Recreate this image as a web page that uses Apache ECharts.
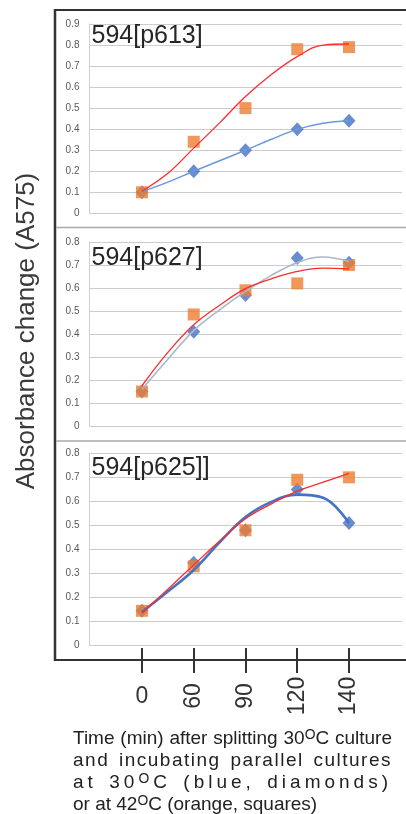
<!DOCTYPE html>
<html>
<head>
<meta charset="utf-8">
<script src="https://cdn.jsdelivr.net/npm/echarts@6/dist/echarts.min.js"></script>
<style>
html,body{margin:0;padding:0;background:#fff;}
#wrap{position:relative;width:406px;height:814px;}
#chart{position:absolute;left:0;top:0;width:406px;height:814px;}
#caption{position:absolute;left:73px;top:727px;width:319px;font-family:"Liberation Sans",Arial,sans-serif;font-size:19px;line-height:22px;color:#222;}
#caption div{text-align:justify;text-align-last:justify;white-space:nowrap;}
#caption div.last{text-align-last:left;}
#caption sup{font-size:0.73em;vertical-align:5px;line-height:0;}
</style>
</head>
<body>
<div id="wrap">
<div id="chart"></div>
<div id="caption">
<div>Time (min) after splitting 30<sup>O</sup>C culture</div>
<div style="letter-spacing:1.5px">and incubating parallel cultures</div>
<div style="letter-spacing:4px">at 30<sup>O</sup>C (blue, diamonds)</div>
<div class="last">or at 42<sup>O</sup>C (orange, squares)</div>
</div>
</div>
<script>
// ---- data ----
const categories = ['0', '60', '90', '120', '140'];
const panelTitles = ['594[p613]', '594[p627]', '594[p625]]'];
const yMax = [0.9, 0.8, 0.8];
const yTitle = 'Absorbance change (A575)';

const p1Blue = [0.10, 0.20, 0.30, 0.40, 0.44];
const p1Orange = [0.10, 0.34, 0.50, 0.78, 0.79];
const p2Blue = [0.15, 0.41, 0.57, 0.73, 0.71];
const p2Orange = [0.15, 0.485, 0.59, 0.62, 0.70];
const p3Blue = [0.145, 0.345, 0.48, 0.65, 0.51];
const p3Orange = [0.145, 0.33, 0.48, 0.69, 0.70];

// trend curves at these category positions
const trendX = [0, 0.5, 1, 1.5, 2, 2.5, 3, 3.5, 4];
const p1BlueTrend = [0.103, 0.148, 0.20, 0.25, 0.30, 0.352, 0.399, 0.428, 0.44];
const p1RedTrend = [0.105, 0.19, 0.31, 0.43, 0.555, 0.66, 0.745, 0.80, 0.805];
const p2BlueTrend = [0.16, 0.29, 0.415, 0.505, 0.585, 0.655, 0.71, 0.735, 0.715];
const p2RedTrend = [0.175, 0.32, 0.44, 0.525, 0.597, 0.64, 0.672, 0.686, 0.683];
const p3BlueTrend = [0.14, 0.225, 0.315, 0.43, 0.535, 0.598, 0.628, 0.615, 0.51];
const p3RedTrend = [0.135, 0.235, 0.336, 0.435, 0.528, 0.59, 0.643, 0.68, 0.717];

const blues = [p1Blue, p2Blue, p3Blue];
const oranges = [p1Orange, p2Orange, p3Orange];
const blueTrends = [p1BlueTrend, p2BlueTrend, p3BlueTrend];
const redTrends = [p1RedTrend, p2RedTrend, p3RedTrend];

// ---- layout / style ----
const FONT = '"Liberation Sans", Arial, sans-serif';
const gridsPx = [
  {top: 24, bottom: 814 - 213.3},
  {top: 242, bottom: 814 - 426},
  {top: 453.3, bottom: 814 - 645.7}
];
const blueTrendStyle = [
  {color: '#6b98dc', width: 1.5},
  {color: '#a9b8cc', width: 1.6},
  {color: '#4472C4', width: 2.6}
];

const chart = echarts.init(document.getElementById('chart'), null, {renderer: 'canvas'});

const grid = [], xAxis = [], yAxis = [], series = [];
for (let p = 0; p < 3; p++) {
  grid.push({left: 89.5, right: 4, top: gridsPx[p].top, bottom: gridsPx[p].bottom});
  xAxis.push({type: 'value', gridIndex: p, min: -1.014, max: 5.024, show: false});
  yAxis.push({
    type: 'value', gridIndex: p, min: 0, max: yMax[p], interval: 0.1,
    axisLine: {show: true, onZero: false, lineStyle: {color: '#d0d0d0', width: 1}},
    axisTick: {show: false},
    splitLine: {lineStyle: {color: '#cccccc', width: 1.2}},
    axisLabel: {
      color: '#595959', fontSize: 10, fontFamily: FONT, margin: 10,
      formatter: v => v === 0 ? '0' : v.toFixed(1)
    }
  });
  series.push({
    type: 'scatter', xAxisIndex: p, yAxisIndex: p, symbol: 'diamond', symbolSize: [13, 14],
    itemStyle: {color: '#4472C4'},
    data: blues[p].map((v, i) => [i, v]), z: 2
  });
  series.push({
    type: 'scatter', xAxisIndex: p, yAxisIndex: p, symbol: 'rect', symbolSize: 12,
    itemStyle: {color: '#ED7D31'},
    data: oranges[p].map((v, i) => [i, v]), z: 3
  });
  series.push({
    type: 'line', xAxisIndex: p, yAxisIndex: p, smooth: 0.4, showSymbol: false,
    lineStyle: blueTrendStyle[p], data: trendX.map((x, i) => [x, blueTrends[p][i]]), z: 4
  });
  series.push({
    type: 'line', xAxisIndex: p, yAxisIndex: p, smooth: 0.4, showSymbol: false,
    lineStyle: {color: '#ff2b2b', width: 1.3}, data: trendX.map((x, i) => [x, redTrends[p][i]]), z: 5
  });
}
// bottom tick axis
grid.push({left: 116.1, width: 258.75, top: 620, bottom: 814 - 660});
yAxis.push({type: 'value', gridIndex: 3, show: false});
xAxis.push({
  type: 'category', gridIndex: 3, data: categories, position: 'bottom',
  axisLine: {show: false},
  axisTick: {show: true, alignWithLabel: true, length: 13, lineStyle: {color: '#333', width: 2}},
  axisLabel: {
    interval: 0, rotate: 90, align: 'center', margin: 36, fontSize: 23, fontFamily: FONT, color: '#333',
    formatter: (v, i) => i === 0 ? '' : v
  },
  splitLine: {show: false}
});
xAxis.push({
  type: 'category', gridIndex: 3, data: categories, position: 'bottom',
  axisLine: {show: false},
  axisTick: {show: true, inside: true, alignWithLabel: true, length: 12, lineStyle: {color: '#333', width: 2}},
  axisLabel: {
    interval: 0, rotate: 0, margin: 25, fontSize: 23, fontFamily: FONT, color: '#333',
    formatter: (v, i) => i === 0 ? v : ''
  },
  splitLine: {show: false}
});

const titleY = [36, 258, 468];
const graphic = [
  {type: 'line', shape: {x1: 54, y1: 10, x2: 406, y2: 10}, style: {stroke: '#333', lineWidth: 2}, z: 10},
  {type: 'line', shape: {x1: 55, y1: 9, x2: 55, y2: 661}, style: {stroke: '#333', lineWidth: 2.5}, z: 10},
  {type: 'line', shape: {x1: 54, y1: 660, x2: 406, y2: 660}, style: {stroke: '#333', lineWidth: 2}, z: 10},
  {type: 'line', shape: {x1: 56, y1: 227.5, x2: 406, y2: 227.5}, style: {stroke: '#aaaaaa', lineWidth: 1.5}, z: 10},
  {type: 'line', shape: {x1: 56, y1: 441, x2: 406, y2: 441}, style: {stroke: '#aaaaaa', lineWidth: 1.5}, z: 10},
  {type: 'text', x: 27, y: 331, rotation: Math.PI / 2,
   style: {text: yTitle, font: '26px ' + FONT, fill: '#3a3a3a', textAlign: 'center', textVerticalAlign: 'middle'}}
];
panelTitles.forEach((t, p) => {
  graphic.push({type: 'text', x: 91.5, y: titleY[p],
    style: {text: t, font: '25px ' + FONT, fill: '#262626', textAlign: 'left', textVerticalAlign: 'middle'}, z: 20});
});

chart.setOption({
  animation: false,
  backgroundColor: '#fff',
  grid, xAxis, yAxis, series, graphic
});
</script>
</body>
</html>
